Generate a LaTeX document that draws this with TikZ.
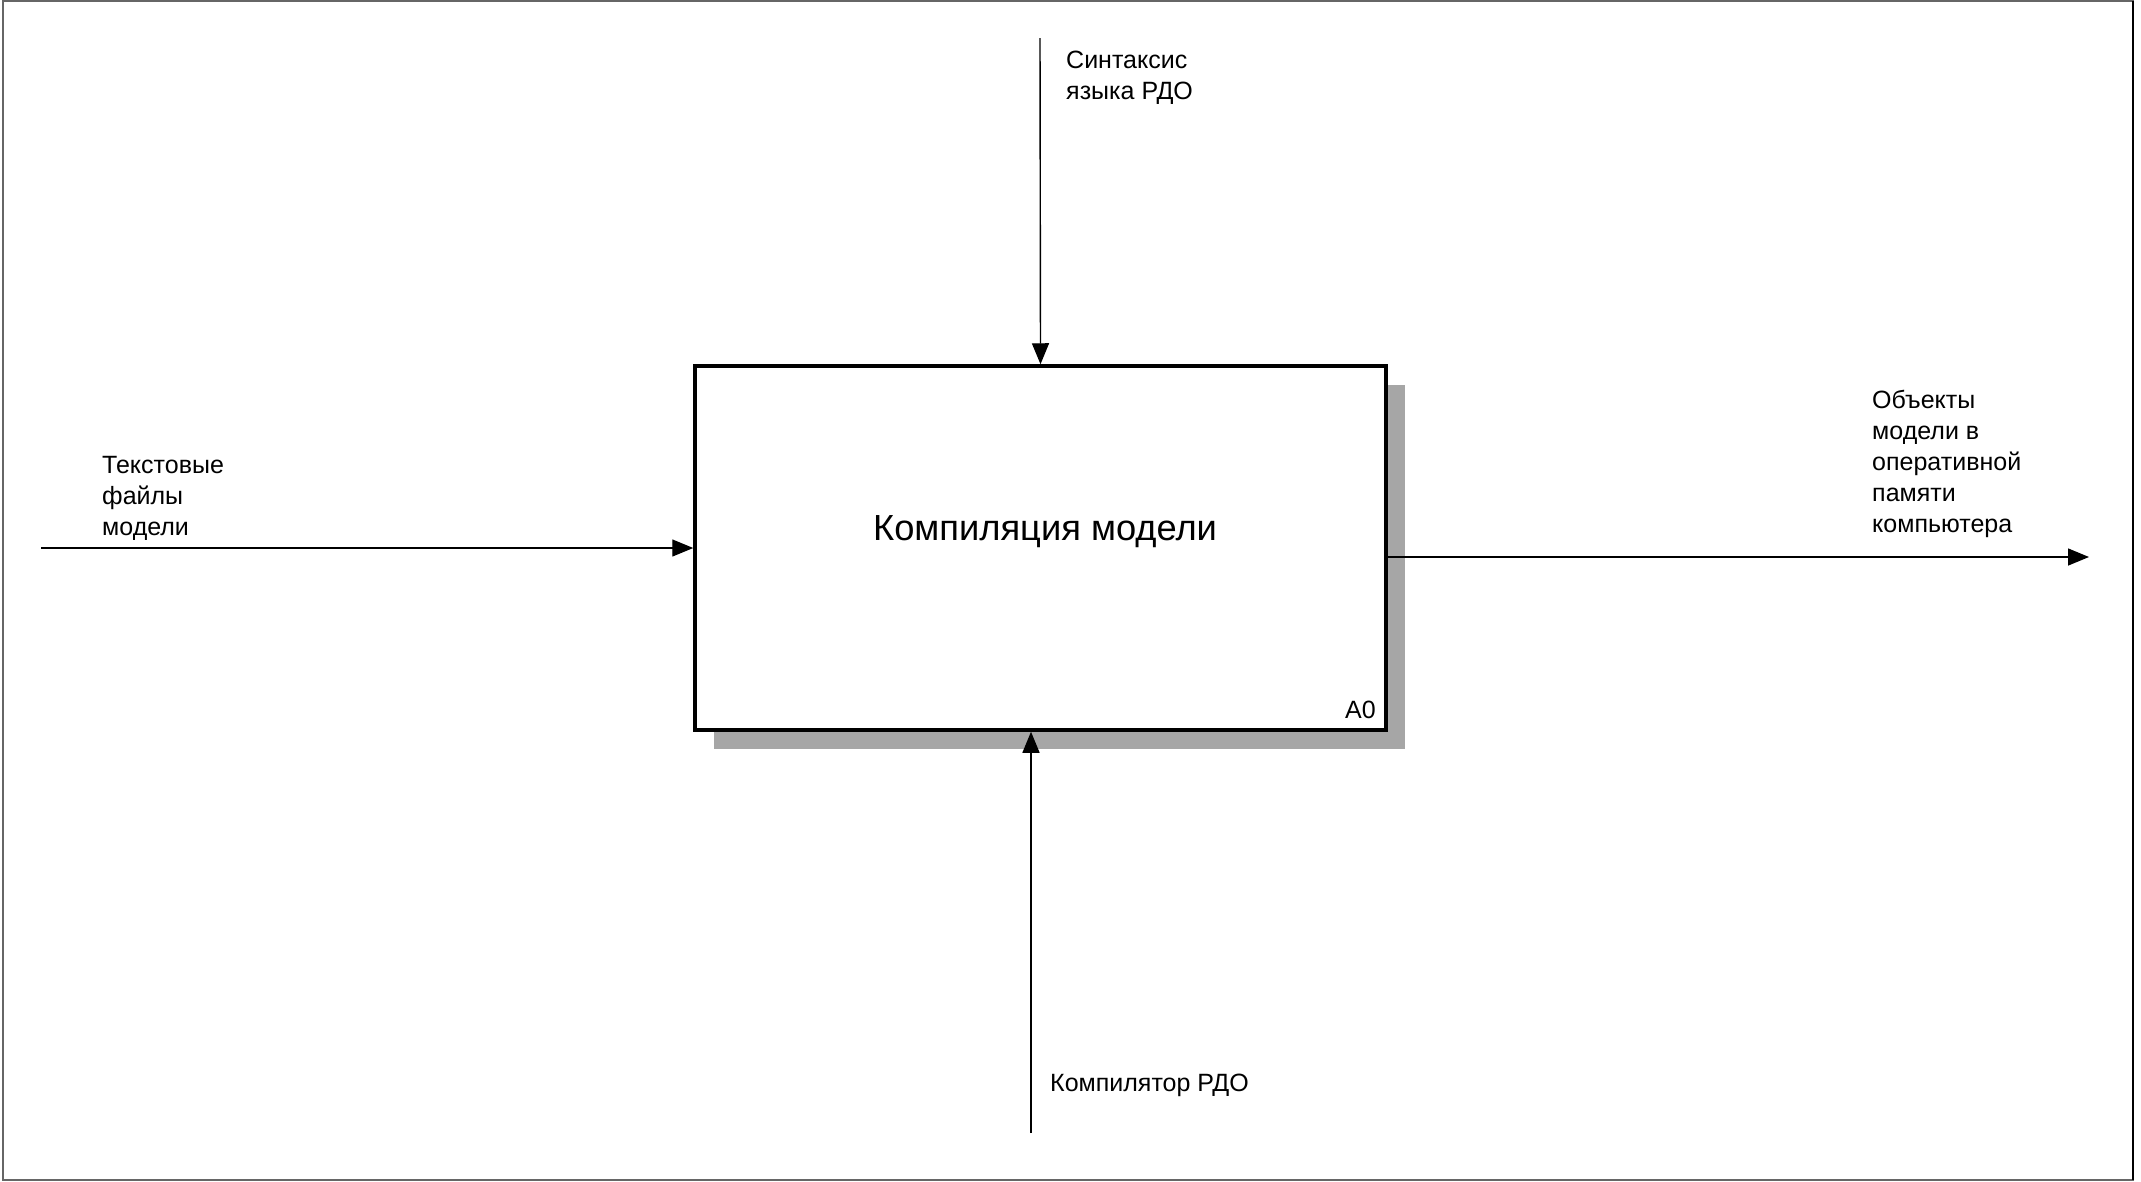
\documentclass[tikz,border=0pt]{standalone}
\usepackage{fontspec}
\setmainfont{Liberation Sans}
\usetikzlibrary{arrows.meta,shadows}

\begin{document}
\begin{tikzpicture}[x=1pt,y=-1pt,
    every node/.style={font=\fontsize{25}{31}\selectfont},
    func/.style={draw, line width=3.5pt, fill=white, minimum width=691pt, minimum height=364pt, inner sep=0pt,
      drop shadow={shadow xshift=19pt, shadow yshift=-19pt, fill=black!35, opacity=1}},
    arc/.style={line width=1.4pt, -{Triangle[length=21pt,width=17pt]}},
    lbl/.style={anchor=west, align=left, inner sep=0pt}]
    \useasboundingbox (0,0) rectangle (2141,1181);
    \draw[black!60, line width=2pt] (3,1) rectangle (2133,1180);
    \draw[line width=2.5pt] (2133,1) -- (2133,1180);

    \node[func] (a0) at (1040.5,548) {};
    \node[font=\fontsize{36.3}{43}\selectfont] (title) at (1045,532) {Компиляция модели};
    \node[anchor=east, inner sep=0pt] (num) at (1376,710) {A0};

    \coordinate (ctl) at (1040,38);
    \coordinate (inp) at (41,548);
    \coordinate (outp) at (2089,557);
    \coordinate (mech) at (1031,1133);

    \draw[arc] (ctl) -- (a0.north);
    \draw[arc] (inp) -- (a0.west);
    \draw[arc] (a0.east |- outp) -- (outp);
    \draw[arc] (mech) -- (a0.south -| mech);

    \node[lbl] (ctllbl) at (1066,78) {Синтаксис\\языка РДО};
    \node[lbl] (inplbl) at (102,498) {Текстовые\\файлы\\модели};
    \node[lbl] (outlbl) at (1872,464) {Объекты\\модели в\\оперативной\\памяти\\компьютера};
    \node[lbl] (mechlbl) at (1050,1085) {Компилятор РДО};
\end{tikzpicture}
\end{document}
